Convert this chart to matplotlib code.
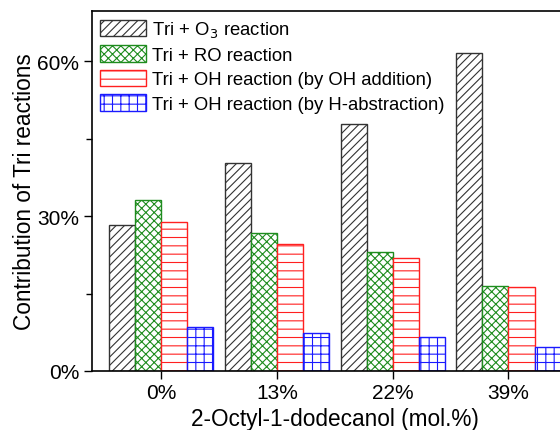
import numpy as np
import matplotlib.pyplot as plt
from matplotlib.ticker import MultipleLocator, PercentFormatter

plt.rcParams['font.family'] = ['Liberation Sans', 'DejaVu Sans']
plt.rcParams['hatch.linewidth'] = 0.8

# data (percent contribution)
conc = ["0%", "13%", "22%", "39%"]
o3 = [28.3, 40.3, 47.8, 61.6]
ro = [33.2, 26.8, 23.1, 16.5]
oh_add = [28.9, 24.6, 21.8, 16.2]
oh_abs = [8.6, 7.4, 6.5, 4.7]

labels = ["Tri + O$_3$ reaction", "Tri + RO reaction",
          "Tri + OH reaction (by OH addition)",
          "Tri + OH reaction (by H-abstraction)"]
colors = ["#333333", "#1e8c1e", "#ff2020", "#1a1aff"]
hatches = ["////", "xxxx", "--", "++"]

fig = plt.figure(figsize=(5.6, 4.31), dpi=100)
ax = fig.add_axes([0.164, 0.137, 0.868, 0.835])

x = np.arange(len(conc))
w = 0.225
series = [o3, ro, oh_add, oh_abs]
for i, vals in enumerate(series):
    ax.bar(x + (i - 1.5) * w, vals, w, facecolor="white", edgecolor=colors[i],
           hatch=hatches[i], linewidth=1.0, label=labels[i])

ax.set_xlim(-0.6, 3.6)
ax.set_ylim(0, 69.7)
ax.set_xticks(x)
ax.set_xticklabels(conc)
ax.yaxis.set_major_locator(MultipleLocator(30))
ax.yaxis.set_minor_locator(MultipleLocator(15))
ax.yaxis.set_major_formatter(PercentFormatter(decimals=0))
ax.tick_params(axis="both", labelsize=15, direction="out", length=6, width=1, pad=3)
ax.tick_params(axis="y", which="minor", length=4, width=1)
for s in ax.spines.values():
    s.set_linewidth(1.2)

ax.set_xlabel("2-Octyl-1-dodecanol (mol.%)", fontsize=16.3, labelpad=3)
ax.set_ylabel("Contribution of Tri reactions", fontsize=16.3, labelpad=1)

ax.legend(loc="upper left", frameon=False, fontsize=13.3, handlelength=2.5,
          handleheight=1.0, handletextpad=0.3, labelspacing=0.32,
          borderaxespad=0.1, borderpad=0.35)

fig.savefig("out.png", dpi=100)
